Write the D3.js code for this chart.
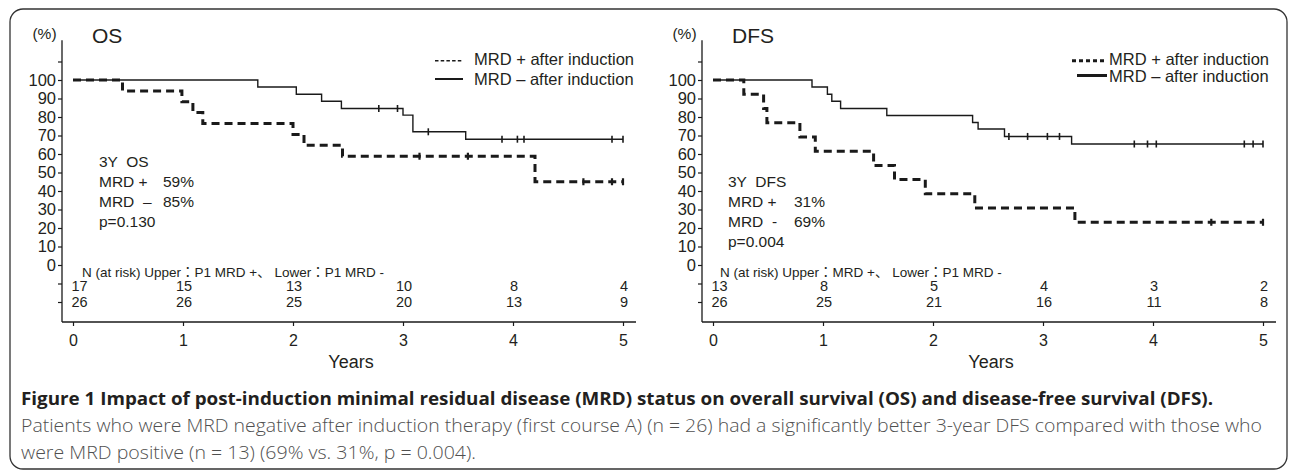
<!DOCTYPE html>
<html><head><meta charset="utf-8">
<script src="https://cdn.jsdelivr.net/npm/d3@7"></script>
<style>
body{margin:0;background:#fff;}
svg text{font-family:Arial,"Liberation Sans","Noto Sans CJK JP",sans-serif;fill:#231f20;}
svg text.cap{font-family:"Open Sans","Noto Sans",sans-serif;}
.pre{white-space:pre;}
</style></head><body>
<svg id="chart" width="1290" height="471"></svg>
<script>
// ---------- data ----------
const xYears = [0, 1, 2, 3, 4, 5];
const yTicks = [-20, -10, 0, 10, 20, 30, 40, 50, 60, 70, 80, 90, 100, 110];
const yLabelled = [0, 10, 20, 30, 40, 50, 60, 70, 80, 90, 100];
const endYear = 5;

// OS panel
const osPosTime = [0, 0.45, 0.99, 1.09, 1.18, 2.00, 2.10, 2.45, 4.20];
const osPosSurv = [100, 94.1, 88.2, 82.4, 76.5, 70.6, 64.7, 58.8, 45.0];
const osPosCens = [3.15, 3.59, 4.64, 4.90, 5.0];
const osNegTime = [0, 1.68, 2.03, 2.26, 2.44, 3.00, 3.09, 3.57];
const osNegSurv = [100, 96.2, 92.3, 88.5, 84.6, 81.0, 72.0, 68.0];
const osNegCens = [2.78, 2.95, 3.23, 3.90, 4.04, 4.10, 4.90, 5.0];
const osRiskPos = [17, 15, 13, 10, 8, 4];
const osRiskNeg = [26, 26, 25, 20, 13, 9];
const osStatLabels = ["3Y  OS", "MRD +", "MRD  –", "p=0.130"];
const osStatValues = ["", "59%", "85%", ""];
const osRiskHeader = "N (at risk) Upper：P1 MRD +、 Lower：P1 MRD -";

// DFS panel
const dfsPosTime = [0, 0.28, 0.46, 0.49, 0.79, 0.93, 1.46, 1.65, 1.93, 2.38, 3.29];
const dfsPosSurv = [100, 92.3, 84.6, 76.9, 69.2, 61.5, 53.8, 46.2, 38.5, 30.8, 23.1];
const dfsPosCens = [4.53, 5.0];
const dfsNegTime = [0, 0.90, 1.04, 1.08, 1.16, 1.58, 2.36, 2.41, 2.65, 3.26];
const dfsNegSurv = [100, 96.2, 92.3, 88.5, 84.6, 80.8, 77.0, 73.5, 69.5, 65.4];
const dfsNegCens = [2.69, 2.86, 3.04, 3.15, 3.83, 3.95, 4.03, 4.83, 4.91, 5.0];
const dfsRiskPos = [13, 8, 5, 4, 3, 2];
const dfsRiskNeg = [26, 25, 21, 16, 11, 8];
const dfsStatLabels = ["3Y  DFS", "MRD +", "MRD  -", "p=0.004"];
const dfsStatValues = ["", "31%", "69%", ""];
const dfsRiskHeader = "N (at risk) Upper：MRD +、 Lower：P1 MRD -";

const legendLabels = ["MRD + after induction", "MRD – after induction"];
const captionLines = [
  "Figure 1 Impact of post-induction minimal residual disease (MRD) status on overall survival (OS) and disease-free survival (DFS).",
  "Patients who were MRD negative after induction therapy (first course A) (n = 26) had a significantly better 3-year DFS compared with those who",
  "were MRD positive (n = 13) (69% vs. 31%, p = 0.004)."
];

// ---------- drawing ----------
const svg = d3.select("#chart");
const ink = "#1a1a1a";

// frame
svg.append("rect").attr("x", 10).attr("y", 9).attr("width", 1277).attr("height", 460)
  .attr("rx", 13).attr("fill", "none").attr("stroke", "#333").attr("stroke-width", 1.3);

function survAt(times, surv, t) {
  let s = surv[0];
  for (let i = 0; i < times.length; i++) if (times[i] <= t) s = surv[i];
  return s;
}

function drawPanel(cfg) {
  const ox = cfg.ox;
  const g = svg.append("g");
  const x = d3.scaleLinear().domain([0, 5]).range([73 + ox, 623 + ox]);
  const y = d3.scaleLinear().domain([0, 100]).range([265, 80]);
  const axisX = 62 + ox, axisBottom = 322;

  // y axis
  const ya = g.append("g").attr("transform", `translate(${axisX},0)`)
    .call(d3.axisLeft(y).tickValues(yTicks).tickSize(4).tickPadding(2)
      .tickFormat(d => yLabelled.includes(d) ? d : ""));
  ya.select(".domain").remove();
  ya.selectAll("line").attr("stroke", ink).attr("stroke-width", 1.2);
  ya.selectAll("text").attr("font-size", 16.5).attr("font-family", null).attr("fill", ink);
  g.append("line").attr("x1", axisX).attr("x2", axisX).attr("y1", y(121.5)).attr("y2", axisBottom)
    .attr("stroke", ink).attr("stroke-width", 1.3);

  // x axis
  const xa = g.append("g").attr("transform", `translate(0,${axisBottom})`)
    .call(d3.axisBottom(x).tickValues(xYears).tickSize(4).tickPadding(9).tickFormat(d3.format("d")));
  xa.select(".domain").remove();
  xa.selectAll("line").attr("stroke", ink).attr("stroke-width", 1.2);
  xa.selectAll("text").attr("font-size", 16).attr("font-family", null).attr("fill", ink);
  g.append("line").attr("x1", axisX).attr("x2", x(5) + 13).attr("y1", axisBottom).attr("y2", axisBottom)
    .attr("stroke", ink).attr("stroke-width", 1.3);
  g.append("text").attr("x", (x(0) + x(5)) / 2 + 3).attr("y", 368).attr("text-anchor", "middle")
    .attr("font-size", 18).text("Years");

  // labels
  g.append("text").attr("x", 44.5 + ox).attr("y", 39).attr("text-anchor", "middle")
    .attr("font-size", 15.5).text("(%)");
  g.append("text").attr("x", 92 + ox).attr("y", 43.3).attr("font-size", 21).text(cfg.title);

  // curves
  const line = d3.line().curve(d3.curveStepAfter).x(d => x(d[0])).y(d => y(d[1]));
  function curve(times, surv, cens, style) {
    const pts = times.map((t, i) => [t, surv[i]]);
    pts.push([endYear, surv[surv.length - 1]]);
    const p = g.append("path").attr("d", line(pts)).attr("fill", "none").attr("stroke", ink);
    if (style === "dash") p.attr("stroke-width", 3).attr("stroke-dasharray", "8,5");
    else p.attr("stroke-width", 1.4);
    g.selectAll(null).data(cens).enter().append("line")
      .attr("x1", d => x(d)).attr("x2", d => x(d))
      .attr("y1", d => y(survAt(times, surv, d)) - 3.5)
      .attr("y2", d => y(survAt(times, surv, d)) + 3.5)
      .attr("stroke", ink).attr("stroke-width", style === "dash" ? 2.2 : 1.6);
  }
  curve(cfg.negTime, cfg.negSurv, cfg.negCens, "solid");
  curve(cfg.posTime, cfg.posSurv, cfg.posCens, "dash");

  // legend
  const L = cfg.legend;
  g.append("line").attr("x1", L.x1a).attr("x2", L.x2).attr("y1", L.y1).attr("y2", L.y1)
    .attr("stroke", ink).attr("stroke-width", L.w1).attr("stroke-dasharray", L.dash1);
  g.append("line").attr("x1", L.x1b).attr("x2", L.x2).attr("y1", L.y2).attr("y2", L.y2)
    .attr("stroke", ink).attr("stroke-width", L.w2);
  g.append("text").attr("x", L.tx).attr("y", L.ty1).attr("font-size", 16.5).text(legendLabels[0]);
  g.append("text").attr("x", L.tx).attr("y", L.ty2).attr("font-size", 16.5).text(legendLabels[1]);

  // statistics block
  cfg.statLabels.forEach((s, i) => {
    g.append("text").attr("class", "pre").attr("x", cfg.statX).attr("y", cfg.statY + i * 20)
      .attr("font-size", 15.5).text(s);
    if (cfg.statValues[i]) g.append("text").attr("x", cfg.statPx).attr("y", cfg.statY + i * 20)
      .attr("font-size", 15.5).text(cfg.statValues[i]);
  });

  // at-risk table
  g.append("text").attr("x", cfg.riskX).attr("y", 276.5).attr("font-size", 13.5).text(cfg.riskHeader);
  [[cfg.riskPos, 291], [cfg.riskNeg, 307]].forEach(([arr, yy]) => {
    g.selectAll(null).data(arr).enter().append("text")
      .attr("x", (d, i) => i === 0 ? x(xYears[i]) - 1.5 : x(xYears[i]) + 1)
      .attr("y", yy).attr("font-size", 14.5)
      .attr("text-anchor", (d, i) => i === 0 ? "start" : "middle")
      .text(d => d);
  });
}

drawPanel({
  ox: 0, title: "OS",
  posTime: osPosTime, posSurv: osPosSurv, posCens: osPosCens,
  negTime: osNegTime, negSurv: osNegSurv, negCens: osNegCens,
  riskPos: osRiskPos, riskNeg: osRiskNeg, riskHeader: osRiskHeader, riskX: 82,
  statLabels: osStatLabels, statValues: osStatValues, statX: 99, statPx: 163, statY: 167,
  legend: {x1a: 435, x1b: 435, x2: 463, y1: 60.7, y2: 79, w1: 1.4, w2: 2, dash1: "3.5,2.2",
           tx: 474, ty1: 65, ty2: 85}
});
drawPanel({
  ox: 640, title: "DFS",
  posTime: dfsPosTime, posSurv: dfsPosSurv, posCens: dfsPosCens,
  negTime: dfsNegTime, negSurv: dfsNegSurv, negCens: dfsNegCens,
  riskPos: dfsRiskPos, riskNeg: dfsRiskNeg, riskHeader: dfsRiskHeader, riskX: 720,
  statLabels: dfsStatLabels, statValues: dfsStatValues, statX: 728, statPx: 794, statY: 187,
  legend: {x1a: 1072, x1b: 1077, x2: 1107, y1: 60.7, y2: 75.5, w1: 3, w2: 3, dash1: "4,3",
           tx: 1109, ty1: 65, ty2: 82}
});

// caption
const cap = svg.append("g");
const capY = [405, 432, 459];
const capLen = [1192, 1241, 455];
captionLines.forEach((s, i) => {
  cap.append("text").attr("class", "cap").attr("x", 21).attr("y", capY[i])
    .attr("font-size", 18)
    .attr("font-weight", i === 0 ? 700 : 300)
    .style("fill", i === 0 ? "#231f20" : "#505050")
    .attr("textLength", capLen[i]).attr("lengthAdjust", "spacingAndGlyphs")
    .text(s);
});
</script>
</body></html>
